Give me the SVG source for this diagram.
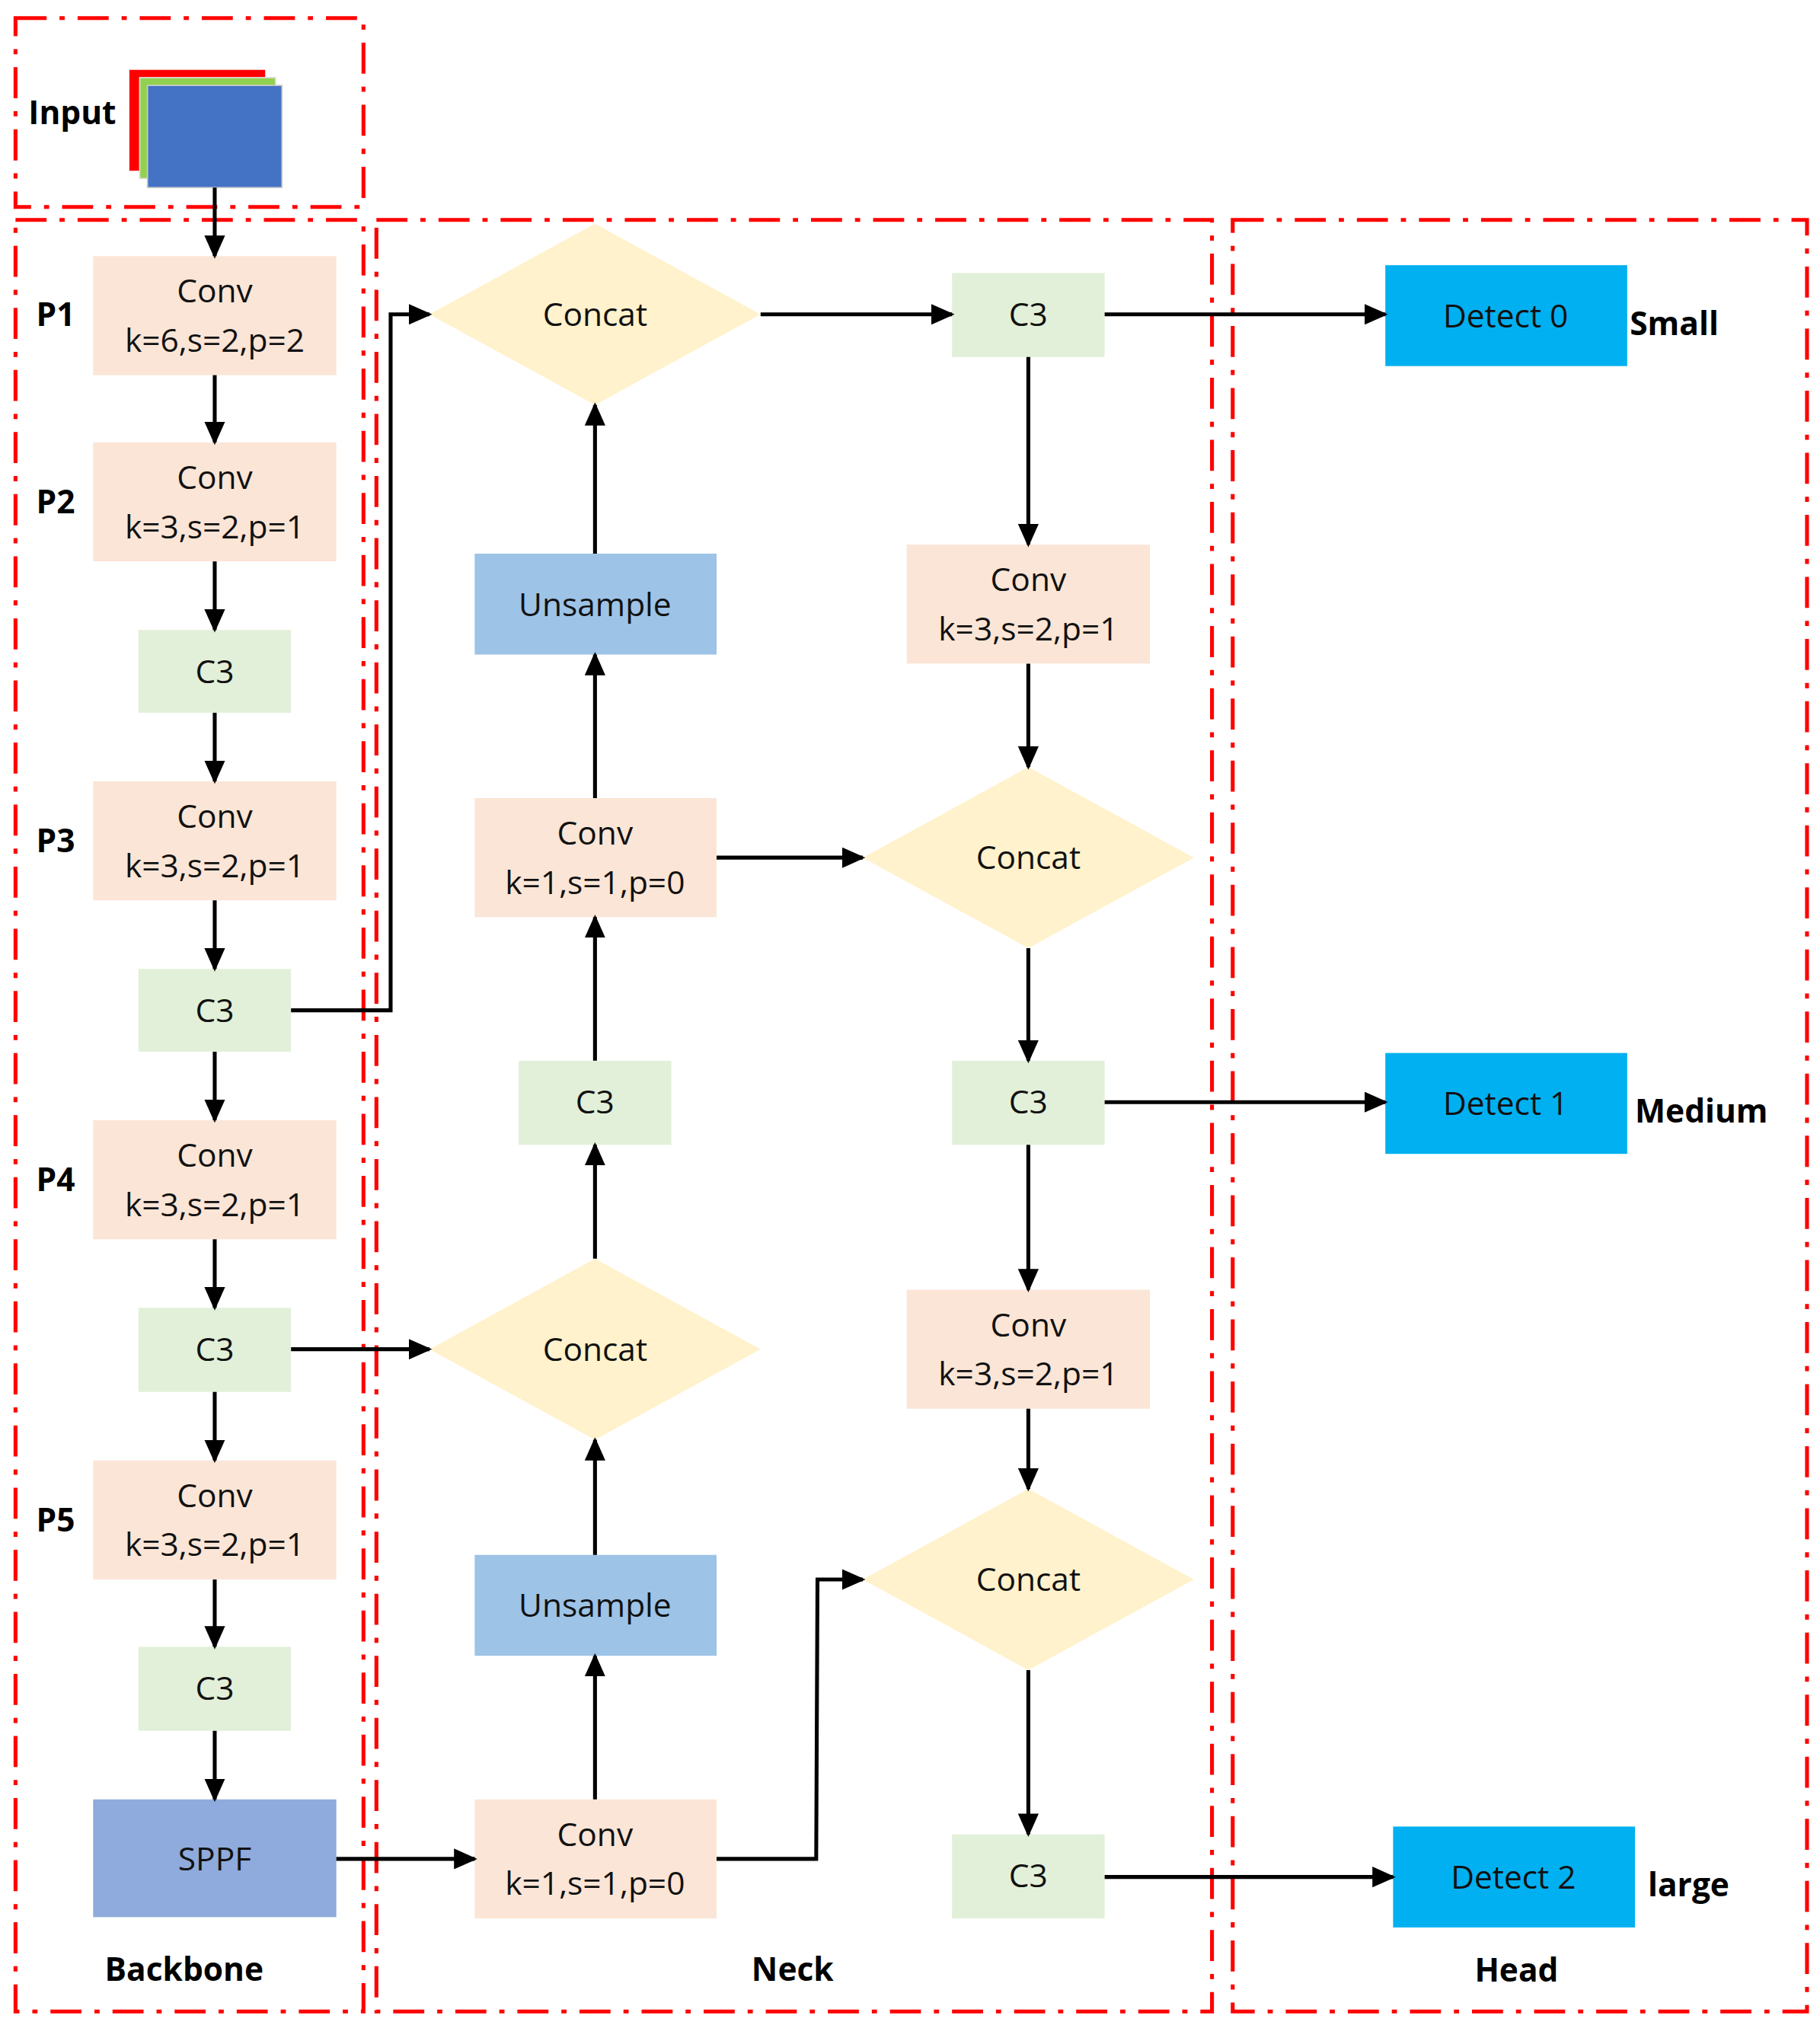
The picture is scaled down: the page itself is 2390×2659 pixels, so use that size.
<svg xmlns="http://www.w3.org/2000/svg" width="2390" height="2659" viewBox="0 0 2390 2659">
<defs>
<marker id="ah" markerUnits="userSpaceOnUse" markerWidth="18" markerHeight="16" refX="16" refY="8" orient="auto"><path d="M0,0 L18,8 L0,16 z" fill="#000"/></marker>
<style>
.reg{fill:none;stroke:#ff0000;stroke-width:3;stroke-dasharray:24 10 4 10}
.conv{fill:#fbe5d6}.c3{fill:#e2f0d9}.cat{fill:#fff2cc}.up{fill:#9dc3e6}.det{fill:#00b0f0}
.t{font-family:"Open Sans","Liberation Sans",sans-serif;font-size:25px;fill:#111;text-anchor:middle}
.b{font-family:"Open Sans","Liberation Sans",sans-serif;font-size:25px;font-weight:bold;fill:#000}
.ln{fill:none;stroke:#000;stroke-width:3;marker-end:url(#ah)}
</style>
</defs>
<rect width="2390" height="2659" fill="#fff"/>
<g transform="scale(1.6986)">
<g id="regions">
<rect class="reg" x="12" y="14" width="269" height="146"/>
<rect class="reg" x="12" y="170" width="269" height="1385"/>
<rect class="reg" x="291" y="170" width="646" height="1385"/>
<rect class="reg" x="953" y="170" width="444" height="1385"/>
</g>
<g id="input">
<rect x="100" y="54" width="105" height="78" fill="#ff0000"/>
<rect x="108" y="60" width="105" height="78" fill="#92d050" stroke="#ddd"/>
<rect x="114" y="66" width="104" height="79" fill="#4472c4" stroke="#ccc"/>
<text class="b" x="22" y="96">Input</text>
</g>
<g id="labels">
<text class="b" x="28" y="252">P1</text>
<text class="b" x="28" y="397">P2</text>
<text class="b" x="28" y="659">P3</text>
<text class="b" x="28" y="921">P4</text>
<text class="b" x="28" y="1184">P5</text>
<text class="b" x="81" y="1531">Backbone</text>
<text class="b" x="581" y="1531">Neck</text>
<text class="b" x="1140" y="1532">Head</text>
<text class="b" x="1260" y="259">Small</text>
<text class="b" x="1264" y="868">Medium</text>
<text class="b" x="1274" y="1466">large</text>
</g>
<g id="backbone">
<g id="b1"><rect class="conv" x="72" y="198" width="188" height="92"/><text class="t" x="166" y="234">Conv</text><text class="t" x="166" y="272">k=6,s=2,p=2</text></g>
<g id="b2"><rect class="conv" x="72" y="342" width="188" height="92"/><text class="t" x="166" y="378">Conv</text><text class="t" x="166" y="416">k=3,s=2,p=1</text></g>
<g id="b3"><rect class="c3" x="107" y="487" width="118" height="64"/><text class="t" x="166" y="528">C3</text></g>
<g id="b4"><rect class="conv" x="72" y="604" width="188" height="92"/><text class="t" x="166" y="640">Conv</text><text class="t" x="166" y="678">k=3,s=2,p=1</text></g>
<g id="b5"><rect class="c3" x="107" y="749" width="118" height="64"/><text class="t" x="166" y="790">C3</text></g>
<g id="b6"><rect class="conv" x="72" y="866" width="188" height="92"/><text class="t" x="166" y="902">Conv</text><text class="t" x="166" y="940">k=3,s=2,p=1</text></g>
<g id="b7"><rect class="c3" x="107" y="1011" width="118" height="65"/><text class="t" x="166" y="1052">C3</text></g>
<g id="b8"><rect class="conv" x="72" y="1129" width="188" height="92"/><text class="t" x="166" y="1165">Conv</text><text class="t" x="166" y="1203">k=3,s=2,p=1</text></g>
<g id="b9"><rect class="c3" x="107" y="1273" width="118" height="65"/><text class="t" x="166" y="1314">C3</text></g>
<g id="b10"><rect x="72" y="1391" width="188" height="91" fill="#8faadc"/><text class="t" x="166" y="1446">SPPF</text></g>
</g>
<g id="neck">
<g id="n1"><path class="cat" d="M332,243 L460,173 L588,243 L460,313 z"/><text class="t" x="460" y="252">Concat</text></g>
<g id="n2"><rect class="up" x="367" y="428" width="187" height="78"/><text class="t" x="460" y="476">Unsample</text></g>
<g id="n3"><rect class="conv" x="367" y="617" width="187" height="92"/><text class="t" x="460" y="653">Conv</text><text class="t" x="460" y="691">k=1,s=1,p=0</text></g>
<g id="n4"><rect class="c3" x="401" y="820" width="118" height="65"/><text class="t" x="460" y="861">C3</text></g>
<g id="n5"><path class="cat" d="M332,1043 L460,973 L588,1043 L460,1113 z"/><text class="t" x="460" y="1052">Concat</text></g>
<g id="n6"><rect class="up" x="367" y="1202" width="187" height="78"/><text class="t" x="460" y="1250">Unsample</text></g>
<g id="n7"><rect class="conv" x="367" y="1391" width="187" height="92"/><text class="t" x="460" y="1427">Conv</text><text class="t" x="460" y="1465">k=1,s=1,p=0</text></g>
<g id="m1"><rect class="c3" x="736" y="211" width="118" height="65"/><text class="t" x="795" y="252">C3</text></g>
<g id="m2"><rect class="conv" x="701" y="421" width="188" height="92"/><text class="t" x="795" y="457">Conv</text><text class="t" x="795" y="495">k=3,s=2,p=1</text></g>
<g id="m3"><path class="cat" d="M667,663 L795,593 L923,663 L795,733 z"/><text class="t" x="795" y="672">Concat</text></g>
<g id="m4"><rect class="c3" x="736" y="820" width="118" height="65"/><text class="t" x="795" y="861">C3</text></g>
<g id="m5"><rect class="conv" x="701" y="997" width="188" height="92"/><text class="t" x="795" y="1033">Conv</text><text class="t" x="795" y="1071">k=3,s=2,p=1</text></g>
<g id="m6"><path class="cat" d="M667,1221 L795,1151 L923,1221 L795,1291 z"/><text class="t" x="795" y="1230">Concat</text></g>
<g id="m7"><rect class="c3" x="736" y="1418" width="118" height="65"/><text class="t" x="795" y="1459">C3</text></g>
</g>
<g id="head">
<g id="d0"><rect class="det" x="1071" y="205" width="187" height="78"/><text class="t" x="1164" y="253">Detect 0</text></g>
<g id="d1"><rect class="det" x="1071" y="814" width="187" height="78"/><text class="t" x="1164" y="862">Detect 1</text></g>
<g id="d2"><rect class="det" x="1077" y="1412" width="187" height="78"/><text class="t" x="1170" y="1460">Detect 2</text></g>
</g>
<g id="connectors">
<path class="ln" d="M166,145 V198"/>
<path class="ln" d="M166,290 V342"/>
<path class="ln" d="M166,434 V487"/>
<path class="ln" d="M166,551 V604"/>
<path class="ln" d="M166,696 V749"/>
<path class="ln" d="M166,813 V866"/>
<path class="ln" d="M166,958 V1011"/>
<path class="ln" d="M166,1076 V1129"/>
<path class="ln" d="M166,1221 V1273"/>
<path class="ln" d="M166,1338 V1391"/>
<path class="ln" d="M225,781 H302 V243 H332"/>
<path class="ln" d="M225,1043 H332"/>
<path class="ln" d="M260,1437 H367"/>
<path class="ln" d="M460,1391 V1280"/>
<path class="ln" d="M460,1202 V1113"/>
<path class="ln" d="M460,973 V885"/>
<path class="ln" d="M460,820 V709"/>
<path class="ln" d="M460,617 V506"/>
<path class="ln" d="M460,428 V313"/>
<path class="ln" d="M588,243 H736"/>
<path class="ln" d="M854,243 H1071"/>
<path class="ln" d="M795,276 V421"/>
<path class="ln" d="M795,513 V593"/>
<path class="ln" d="M795,733 V820"/>
<path class="ln" d="M795,885 V997"/>
<path class="ln" d="M795,1089 V1151"/>
<path class="ln" d="M795,1291 V1418"/>
<path class="ln" d="M554,663 H667"/>
<path class="ln" d="M554,1437 H631 L632,1221 H667"/>
<path class="ln" d="M854,852 H1071"/>
<path class="ln" d="M854,1451 H1077"/>
</g>
</g>
</svg>
